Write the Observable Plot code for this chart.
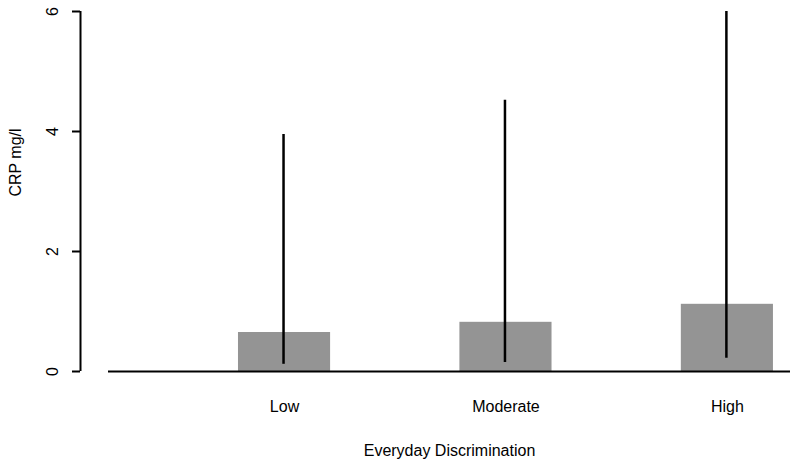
<!DOCTYPE html>
<html>
<head>
<meta charset="utf-8">
<script src="https://cdn.jsdelivr.net/npm/d3@7"></script>
<script src="https://cdn.jsdelivr.net/npm/@observablehq/plot@0.6"></script>
<style>
  html, body { margin: 0; padding: 0; background: #fff; }
  svg { font-family: "Liberation Sans", Arial, Helvetica, sans-serif; }
  svg text { font-size: 16px; }
</style>
</head>
<body>
<div id="chart"></div>
<script>
const categories = ["Low", "Moderate", "High"];
const crpMean = [0.65, 0.82, 1.12];
const errLow = [0.12, 0.15, 0.22];
const errHigh = [3.95, 4.52, 6.0];
const yTicks = [0, 2, 4, 6];

const data = categories.map((c, i) => ({
  cat: c, pos: i + 1, mean: crpMean[i], lo: errLow[i], hi: errHigh[i]
}));

const halfW = 0.208;
const xDomain = [0.205, 3.285];
const xMid = (xDomain[0] + xDomain[1]) / 2;

const chart = Plot.plot({
  width: 800,
  height: 468,
  marginLeft: 108,
  marginRight: 10,
  marginTop: 11,
  marginBottom: 97,
  style: { fontFamily: "'Liberation Sans', Arial, Helvetica, sans-serif", fontSize: "16px", background: "#fff" },
  x: { domain: xDomain, axis: null, label: null },
  y: { domain: [0, 6], axis: null, label: null },
  marks: [
    Plot.rectY(data, { x1: d => d.pos - halfW, x2: d => d.pos + halfW, y1: 0, y2: "mean", fill: "#949494" }),
    Plot.ruleX(data, { x: "pos", y1: "lo", y2: "hi", stroke: "#000", strokeWidth: 2.5, dx: -1 }),
    Plot.ruleY([0], { x1: xDomain[0], x2: xDomain[1], stroke: "#000", strokeWidth: 2 }),
    Plot.ruleX([xDomain[0]], { y1: 0, y2: 6, dx: -28, stroke: "#000", strokeWidth: 2 }),
    Plot.axisY({ ticks: yTicks, tickSize: 8, dx: -28, tickRotate: -90, tickPadding: 15, fontSize: 16, strokeWidth: 2, label: null, tickFormat: d => String(d) }),
    Plot.axisX({ ticks: [1, 2, 3], tickSize: 0, tickPadding: 0, dy: 29.5, fontSize: 16, label: null, tickFormat: d => categories[d - 1] }),
    Plot.text(["Everyday Discrimination"], { frameAnchor: "bottom", dy: 84.5, fontSize: 16, x: xMid, lineAnchor: "bottom" }),
    Plot.text(["CRP mg/l"], { frameAnchor: "left", dx: -93, dy: -29, rotate: -90, fontSize: 16, textAnchor: "middle" })
  ]
});
document.getElementById("chart").appendChild(chart);
</script>
</body>
</html>
